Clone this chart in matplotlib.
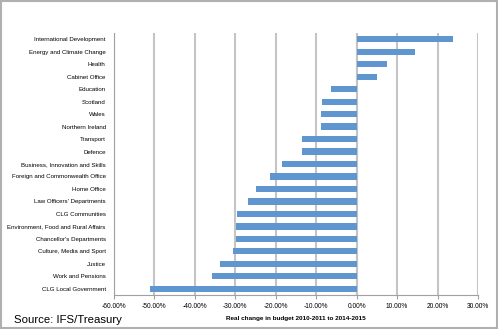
import matplotlib
matplotlib.use('Agg')
from matplotlib import pyplot as plt
import numpy as np

# departments, top to bottom as shown
depts = ['International Development', 'Energy and Climate Change', 'Health', 'Cabinet Office',
         'Education', 'Scotland', 'Wales', 'Northern Ireland', 'Transport', 'Defence',
         'Business, Innovation and Skills', 'Foreign and Commonwealth Office', 'Home Office',
         "Law Officers' Departments", 'CLG Communities', 'Environment, Food and Rural Affairs',
         "Chancellor's Departments", 'Culture, Media and Sport', 'Justice', 'Work and Pensions',
         'CLG Local Government']
change = [23.9, 14.3, 7.4, 5.0, -6.3, -8.5, -8.8, -8.8, -13.4, -13.4, -18.4, -21.5, -24.8,
          -26.9, -29.5, -29.9, -29.9, -30.6, -33.9, -35.8, -51.0]
xticks = [-60, -50, -40, -30, -20, -10, 0, 10, 20, 30]
xticklabels = ['%.2f%%' % t for t in xticks]

plt.rcParams['font.family'] = ['Liberation Sans', 'DejaVu Sans']

fig = plt.figure(figsize=(4.98, 3.29), dpi=100)
ax = fig.add_axes([114/498, 1 - 295/329, (478-114)/498, (295-33)/329])

y = np.arange(len(depts))[::-1]
ax.barh(y, change, height=0.5, color='#6096d0', zorder=3)
ax.set_ylim(-0.5, len(depts) - 0.5)
ax.set_xlim(-60, 30)
ax.set_xticks(xticks)
ax.set_xticklabels(xticklabels, fontsize=4.8)
ax.set_yticks(y)
ax.set_yticklabels(depts, fontsize=4.4)
ax.tick_params(axis='y', length=0, pad=6)
ax.tick_params(axis='x', length=3, color='#a0a0a0', pad=3)
ax.grid(axis='x', color='#c4c4c4', linewidth=1.5, zorder=0)
for s in ['top', 'right']:
    ax.spines[s].set_visible(False)
ax.spines['left'].set_color('#a0a0a0')
ax.spines['bottom'].set_color('#a0a0a0')
ax.axvline(0, color='#c4c4c4', linewidth=1.5, zorder=2)
ax.set_xlabel('Real change in budget 2010-2011 to 2014-2015', fontsize=4.6, fontweight='bold', labelpad=4)

fig.text(14/498, 1 - 320/329, 'Source: IFS/Treasury', fontsize=8.2, va='center', ha='left')
fig.patches.append(plt.Rectangle((0.002, 0.003), 0.996, 0.994, transform=fig.transFigure,
                                 fill=False, edgecolor='#b0b0b0', linewidth=1.5))

fig.savefig('out.png', dpi=100)
